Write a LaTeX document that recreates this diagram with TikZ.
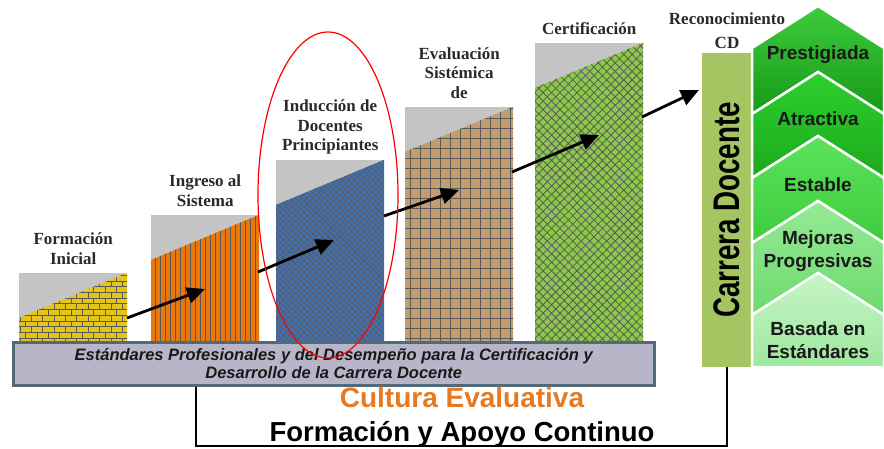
\documentclass[tikz,border=0pt]{standalone}
\usepackage{fontspec}
\setmainfont{Liberation Serif}
\newfontfamily\arialfont{Liberation Sans}
\usetikzlibrary{positioning}
\usetikzlibrary{shapes.geometric}
\usetikzlibrary{patterns}
\usetikzlibrary{patterns.meta}
\usetikzlibrary{arrows.meta}
\definecolor{bar grey}{HTML}{C4C4C4}
\definecolor{brick yellow}{HTML}{E3C51C}
\definecolor{brick orange}{HTML}{E8780E}
\definecolor{wave blue}{HTML}{3F6FB3}
\definecolor{grid tan}{HTML}{C39D6E}
\definecolor{scale green}{HTML}{8CC84B}
\definecolor{label grey}{HTML}{2A2A2A}
\definecolor{band face}{HTML}{B7B5C7}
\definecolor{band edge}{HTML}{52697A}
\definecolor{band light}{HTML}{D3D9E3}
\definecolor{career olive}{HTML}{A5C462}
\definecolor{culture orange}{HTML}{E57A22}
\definecolor{chev1 top}{HTML}{3DCB3D}
\definecolor{chev1 bottom}{HTML}{179A17}
\definecolor{chev2 top}{HTML}{2ED02E}
\definecolor{chev2 bottom}{HTML}{1DA91D}
\definecolor{chev3 top}{HTML}{5CE35C}
\definecolor{chev3 bottom}{HTML}{3ECB3E}
\definecolor{chev4 top}{HTML}{95EA95}
\definecolor{chev4 bottom}{HTML}{6ED96E}
\definecolor{chev5 top}{HTML}{C6F5C6}
\definecolor{chev5 bottom}{HTML}{9EE79E}
\tikzset{
    >={Triangle[length=18pt, width=16pt]},
%
    % The rising steps, grey at the top and patterned below the slope
    stair/.style 2 args={
        rectangle, fill=bar grey, minimum width=108pt, inner sep=0pt,
        anchor=south west,
        path picture={
            \fill [#1, postaction={pattern=#2, pattern color=black!65}]
                (path picture bounding box.south west)
                -- ([yshift=-45pt]path picture bounding box.north west)
                -- (path picture bounding box.north east)
                -- (path picture bounding box.south east) -- cycle;}},
    stair label/.style={
        font=\fontsize{17}{19.5}\selectfont\bfseries, text=label grey,
        align=center, inner sep=2pt},
    progress/.style={draw, black, line width=2.8pt, ->},
%
    band/.style={
        rectangle, fill=band face, draw=band edge, line width=2.5pt,
        minimum width=641pt, minimum height=43pt, align=center,
        font=\arialfont\bfseries\itshape\fontsize{16.5}{18}\selectfont,
        text=black!90,
        path picture={
            \draw [band light, line width=4pt]
                (path picture bounding box.north west)
                -- (path picture bounding box.north east);}},
    focus ring/.style={
        draw=red, ellipse, line width=1.2pt,
        minimum width=140pt, minimum height=326pt},
    frame/.style={draw, black, line width=1.6pt},
    culture text/.style={
        font=\arialfont\bfseries\fontsize{28}{28}\selectfont, text=culture orange},
    support text/.style={
        font=\arialfont\bfseries\fontsize{27.5}{28}\selectfont},
%
    career/.style={
        rectangle, fill=career olive, minimum width=50pt, minimum height=314pt,
        inner sep=0pt, font=\arialfont\bfseries\fontsize{37}{37}\selectfont},
    chevron/.style={draw=white, line width=2.5pt},
    chevron label/.style={
        align=center, font=\arialfont\bfseries\fontsize{19}{23}\selectfont,
        text=black!90},
}

\begin{document}
\begin{tikzpicture}[x=1pt, y=-1pt]
\useasboundingbox (0,0) rectangle (884,449);

% steps
\path
    (19,345) node [stair={brick yellow}{bricks}, minimum height=72pt] (inicial) {}
    (151,345) node [stair={brick orange}{{Lines[angle=90, distance=5pt, line width=1pt]}},
        minimum height=130pt] (ingreso) {}
    (276,345) node [stair={wave blue}{{Hatch[angle=45, distance=4pt, line width=0.6pt]}},
        minimum height=185pt] (induccion) {}
    (405,345) node [stair={grid tan}{{Hatch[distance=10pt, line width=1pt]}},
        minimum height=238pt] (evaluacion) {}
    (535,345) node [stair={scale green}{{Hatch[angle=45, distance=6pt, line width=0.8pt]}},
        minimum height=302pt] (certificacion) {};

\node [stair label, above=6pt of inicial] {Formación\\Inicial};
\node [stair label, above=6pt of ingreso] {Ingreso al\\Sistema};
\node [stair label, above=3pt of induccion] {Inducción de\\Docentes\\Principiantes};
\node [stair label, above=6pt of evaluacion] {Evaluación\\Sistémica\\de};
\node [stair label, above=6pt of certificacion] {Certificación};

% career bar
\node [career] (carrera) at (727,210) {\rotatebox{90}{\scalebox{0.75}[1]{Carrera Docente}}};
\node [stair label, above=2pt of carrera] {Reconocimiento\\[4pt]CD};

% arrows from step to step
\coordinate (s1) at (127,318);
\coordinate (t1) at (205,289);
\coordinate (s2) at (258,272);
\coordinate (t2) at (334,240);
\coordinate (s3) at (384,216);
\coordinate (t3) at (459,190);
\coordinate (s4) at (512,172);
\coordinate (t4) at (599,135);
\coordinate (s5) at (642,117);
\coordinate (t5) at (699,90);

\draw [progress] (s1) -- (t1);
\draw [progress] (s2) -- (t2);
\draw [progress] (s3) -- (t3);
\draw [progress] (s4) -- (t4);
\draw [progress] (s5) -- (t5);

\node [band, anchor=north west] (band) at (12,341)
    {Estándares Profesionales y del Desempeño para la Certificación y\\
     Desarrollo de la Carrera Docente};

\node [focus ring] (foco) at (328,195) {};

\coordinate (corner) at (196,446);
\draw [frame] (band.south -| corner) -- (corner) -| (carrera.south);

\node [culture text] (cultura) at (462,397) {Cultura Evaluativa};
\node [support text] (apoyo) at (462,434) {Formación y Apoyo Continuo};

% chevrons
\foreach \t/\n/\c in {48/114/1, 114/178/2, 178/243/3, 243/315/4}
    \path [chevron, top color=chev\c\space top, bottom color=chev\c\space bottom]
        (752,\t) -- (818,\t-42) -- (884,\t) -- (884,\n) -- (818,\n-42)
        -- (752,\n) -- cycle;
\path [chevron, top color=chev5 top, bottom color=chev5 bottom]
    (752,315) -- (818,273) -- (884,315) -- (884,367) -- (752,367) -- cycle;

\node [chevron label] (prestigiada) at (818,55) {Prestigiada};
\node [chevron label] (atractiva) at (818,119) {Atractiva};
\node [chevron label] (estable) at (818,185) {Estable};
\node [chevron label] (mejoras) at (818,251) {Mejoras\\Progresivas};
\node [chevron label] (basada) at (818,340) {Basada en\\Estándares};

\end{tikzpicture}
\end{document}
